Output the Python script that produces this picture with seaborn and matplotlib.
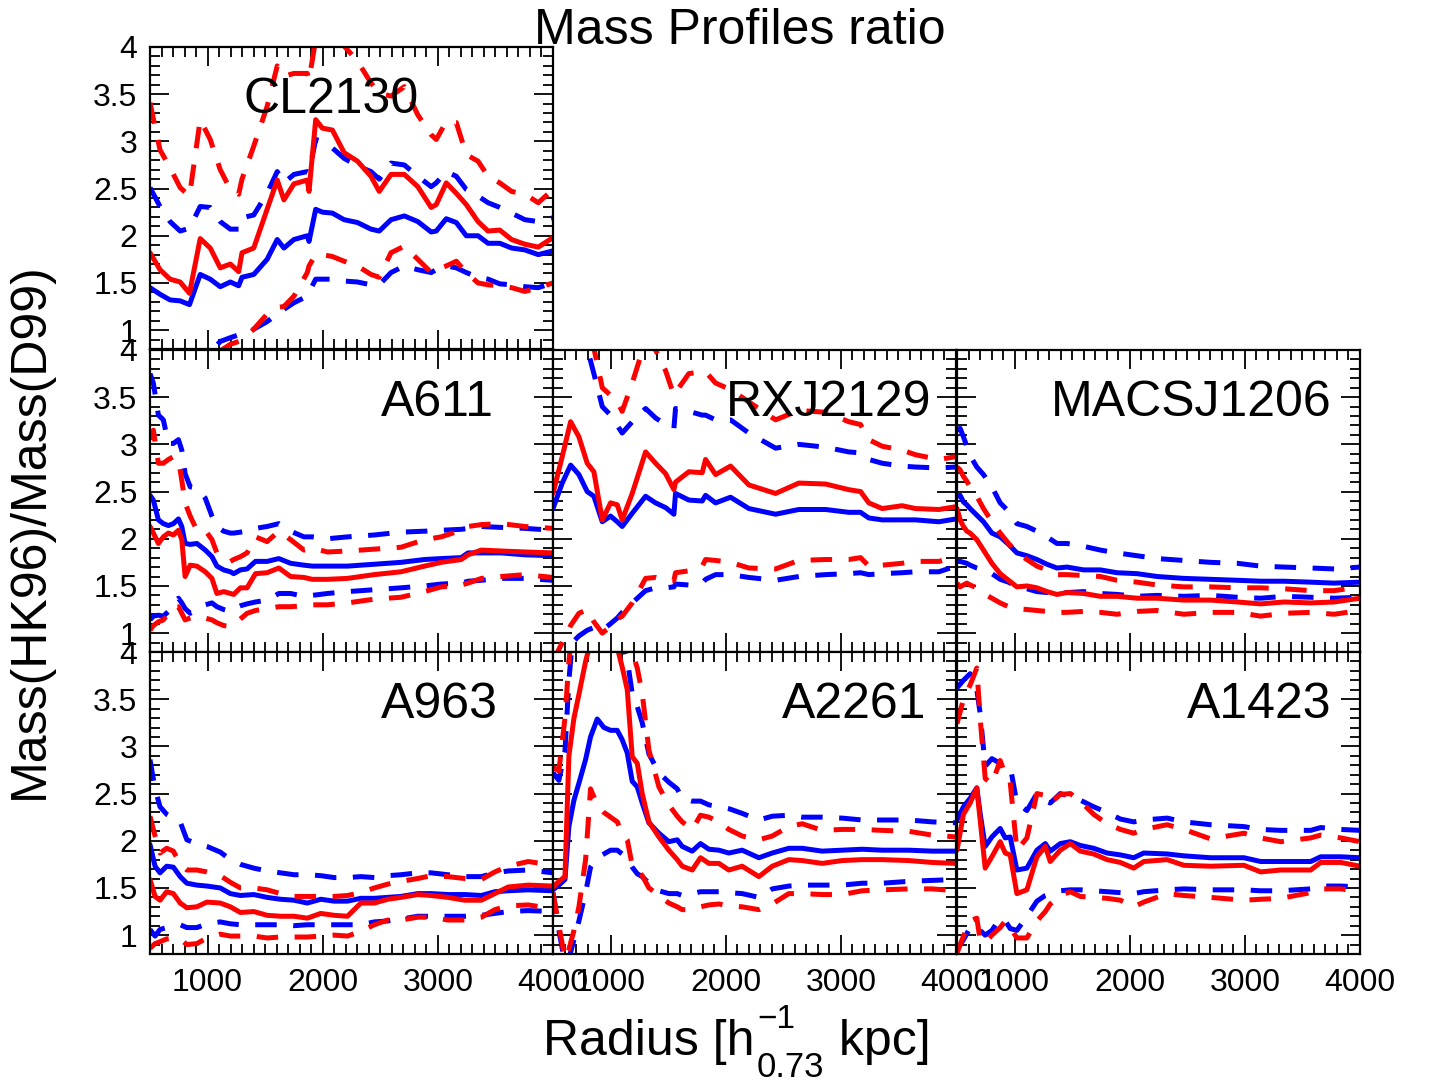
import matplotlib
matplotlib.use('Agg')
import matplotlib.pyplot as plt
import seaborn as sns
from matplotlib.ticker import MultipleLocator, FuncFormatter

# ---- data (radius in h^-1 kpc, ratio HK96/D99) ----
# CL2130
cl2130_r = [500, 587, 674, 762, 843, 936, 1023, 1110, 1198, 1270, 1299, 1401, 1517, 1605, 1663, 1750, 1866, 1881, 1939, 1997,
            2084, 2186, 2302, 2419, 2491, 2593, 2709, 2826, 2942, 2986, 3073, 3160, 3247, 3349, 3436, 3538, 3640, 3756, 3872, 4000]
cl2130_blue = [1.45, 1.38, 1.32, 1.31, 1.27, 1.59, 1.54, 1.46, 1.51, 1.47, 1.56, 1.59, 1.75, 1.96, 1.87, 1.96, 2.00, 1.94, 2.28, 2.25,
               2.24, 2.17, 2.14, 2.07, 2.05, 2.17, 2.21, 2.15, 2.04, 2.05, 2.18, 2.14, 2.00, 2.00, 1.92, 1.92, 1.87, 1.85, 1.80, 1.84]
cl2130_blue_hi = [2.51, 2.31, 2.15, 2.05, 2.08, 2.31, 2.30, 2.15, 2.07, 2.07, 2.19, 2.22, 2.45, 2.68, 2.56, 2.65, 2.68, 2.67, 3.02, 3.00,
                  2.93, 2.82, 2.74, 2.68, 2.60, 2.77, 2.75, 2.63, 2.52, 2.56, 2.68, 2.63, 2.49, 2.42, 2.35, 2.30, 2.24, 2.17, 2.15, 2.19]
cl2130_blue_lo = [0.55, 0.56, 0.58, 0.60, 0.62, 0.68, 0.76, 0.88, 0.92, 0.95, 0.97, 1.01, 1.09, 1.17, 1.22, 1.29, 1.36, 1.40, 1.54, 1.54,
                  1.54, 1.52, 1.51, 1.48, 1.48, 1.61, 1.68, 1.64, 1.61, 1.64, 1.68, 1.66, 1.61, 1.56, 1.54, 1.49, 1.48, 1.46, 1.45, 1.50]
cl2130_red = [1.82, 1.64, 1.54, 1.51, 1.39, 1.97, 1.87, 1.66, 1.70, 1.62, 1.82, 1.87, 2.28, 2.59, 2.38, 2.55, 2.59, 2.47, 3.23, 3.14,
              3.12, 2.88, 2.79, 2.63, 2.47, 2.65, 2.65, 2.52, 2.30, 2.33, 2.56, 2.45, 2.33, 2.15, 2.05, 2.06, 1.96, 1.91, 1.88, 1.98]
cl2130_red_hi = [3.41, 2.91, 2.72, 2.51, 2.42, 3.23, 3.02, 2.70, 2.49, 2.44, 2.60, 2.95, 3.37, 3.80, 3.69, 3.72, 3.72, 3.65, 4.08, 4.22,
                 4.30, 4.01, 3.85, 3.62, 3.51, 3.48, 3.58, 3.28, 3.07, 3.02, 3.21, 3.20, 2.86, 2.79, 2.63, 2.56, 2.47, 2.44, 2.35, 2.49]
cl2130_red_lo = [0.50, 0.52, 0.54, 0.56, 0.58, 0.62, 0.70, 0.78, 0.85, 0.88, 0.90, 1.01, 1.17, 1.24, 1.25, 1.36, 1.61, 1.68, 1.80, 1.80,
                 1.78, 1.73, 1.68, 1.59, 1.56, 1.82, 1.89, 1.75, 1.61, 1.64, 1.68, 1.73, 1.61, 1.50, 1.48, 1.47, 1.45, 1.41, 1.45, 1.50]

# A611
a611_r = [500, 529, 573, 616, 660, 703, 747, 776, 805, 849, 907, 980, 1038, 1081, 1140, 1198, 1227, 1285, 1343, 1416,
          1517, 1619, 1721, 1837, 1910, 2041, 2215, 2448, 2680, 2884, 3029, 3203, 3262, 3378, 3552, 3756, 4000]
a611_blue = [2.46, 2.41, 2.20, 2.16, 2.14, 2.16, 2.21, 2.13, 1.95, 1.94, 1.95, 1.88, 1.81, 1.71, 1.67, 1.65, 1.63, 1.67, 1.68, 1.76,
             1.76, 1.79, 1.74, 1.72, 1.71, 1.71, 1.71, 1.73, 1.75, 1.78, 1.79, 1.80, 1.85, 1.85, 1.85, 1.83, 1.82]
a611_blue_hi = [3.75, 3.65, 3.31, 3.26, 3.01, 3.01, 3.05, 2.94, 2.69, 2.55, 2.54, 2.43, 2.24, 2.13, 2.08, 2.06, 2.06, 2.07, 2.08, 2.11,
                2.13, 2.16, 2.08, 2.02, 2.02, 2.00, 2.02, 2.04, 2.07, 2.08, 2.09, 2.10, 2.11, 2.13, 2.12, 2.11, 2.09]
a611_blue_lo = [1.14, 1.18, 1.19, 1.18, 1.23, 1.32, 1.37, 1.32, 1.26, 1.21, 1.25, 1.30, 1.32, 1.28, 1.25, 1.23, 1.26, 1.29, 1.31, 1.33,
                1.35, 1.42, 1.42, 1.39, 1.40, 1.42, 1.44, 1.46, 1.48, 1.50, 1.52, 1.53, 1.55, 1.56, 1.58, 1.58, 1.56]
a611_red = [2.13, 2.06, 1.95, 2.02, 2.06, 2.04, 2.09, 1.99, 1.60, 1.72, 1.71, 1.65, 1.58, 1.42, 1.44, 1.42, 1.41, 1.48, 1.48, 1.63,
            1.64, 1.69, 1.60, 1.59, 1.57, 1.57, 1.58, 1.62, 1.65, 1.71, 1.75, 1.78, 1.83, 1.88, 1.87, 1.86, 1.85]
a611_red_hi = [3.05, 3.15, 2.80, 2.80, 2.84, 2.87, 2.84, 2.62, 2.38, 2.24, 2.09, 2.09, 1.99, 1.85, 1.81, 1.76, 1.78, 1.81, 1.85, 2.02,
               1.97, 2.08, 1.99, 1.88, 1.90, 1.86, 1.87, 1.89, 1.91, 1.99, 2.02, 2.09, 2.13, 2.15, 2.16, 2.13, 2.11]
a611_red_lo = [1.03, 1.08, 1.12, 1.14, 1.21, 1.28, 1.28, 1.21, 1.14, 1.16, 1.18, 1.16, 1.14, 1.11, 1.08, 1.07, 1.09, 1.15, 1.21, 1.24,
               1.26, 1.28, 1.28, 1.29, 1.30, 1.30, 1.32, 1.36, 1.38, 1.44, 1.49, 1.51, 1.53, 1.58, 1.60, 1.62, 1.59]

# RXJ2129
rxj2129_r = [500, 580, 653, 725, 797, 855, 928, 1000, 1058, 1101, 1188, 1304, 1391, 1478, 1550, 1564, 1680, 1796, 1825, 1912,
             2042, 2201, 2433, 2635, 2867, 3069, 3171, 3243, 3359, 3532, 3648, 3851, 4000]
rxj2129_blue = [2.32, 2.59, 2.78, 2.68, 2.50, 2.45, 2.18, 2.24, 2.18, 2.13, 2.27, 2.45, 2.38, 2.33, 2.26, 2.48, 2.41, 2.40, 2.46, 2.38,
                2.44, 2.32, 2.26, 2.31, 2.31, 2.28, 2.28, 2.22, 2.20, 2.20, 2.20, 2.18, 2.21]
rxj2129_blue_hi = [4.60, 4.50, 4.40, 4.20, 4.02, 3.75, 3.40, 3.31, 3.20, 3.12, 3.24, 3.38, 3.28, 3.21, 3.17, 3.38, 3.35, 3.31, 3.31, 3.26,
                   3.26, 3.12, 2.96, 3.00, 2.97, 2.92, 2.91, 2.84, 2.80, 2.77, 2.76, 2.75, 2.76]
rxj2129_blue_lo = [0.60, 0.75, 0.88, 0.97, 1.03, 1.06, 1.03, 1.10, 1.16, 1.22, 1.32, 1.45, 1.48, 1.48, 1.49, 1.52, 1.51, 1.53, 1.57, 1.62,
                   1.62, 1.59, 1.56, 1.60, 1.62, 1.63, 1.64, 1.62, 1.63, 1.64, 1.65, 1.65, 1.71]
rxj2129_red = [2.48, 2.87, 3.24, 3.08, 2.80, 2.71, 2.20, 2.38, 2.36, 2.20, 2.48, 2.92, 2.80, 2.69, 2.52, 2.60, 2.71, 2.70, 2.84, 2.68,
               2.77, 2.57, 2.48, 2.59, 2.58, 2.52, 2.50, 2.38, 2.32, 2.35, 2.32, 2.31, 2.34]
rxj2129_red_hi = [4.80, 4.70, 4.60, 4.40, 4.20, 4.02, 3.60, 3.52, 3.45, 3.35, 3.65, 4.10, 4.00, 3.78, 3.52, 3.55, 3.75, 3.77, 3.77, 3.65,
                  3.58, 3.45, 3.26, 3.36, 3.34, 3.24, 3.21, 3.05, 2.98, 2.94, 2.89, 2.84, 2.87]
rxj2129_red_lo = [0.70, 0.90, 1.08, 1.21, 1.25, 1.12, 1.00, 1.07, 1.15, 1.18, 1.32, 1.58, 1.59, 1.56, 1.56, 1.64, 1.66, 1.71, 1.78, 1.77,
                  1.75, 1.69, 1.68, 1.77, 1.78, 1.78, 1.80, 1.71, 1.72, 1.74, 1.76, 1.76, 1.81]

# MACSJ1206
macs_r = [500, 527, 556, 585, 614, 672, 730, 803, 875, 948, 1020, 1107, 1194, 1281, 1368, 1455, 1600, 1745, 1890, 2064,
          2238, 2470, 2702, 2934, 3137, 3340, 3572, 3775, 4000]
macs_blue = [2.45, 2.46, 2.39, 2.36, 2.32, 2.25, 2.18, 2.06, 2.02, 1.94, 1.85, 1.82, 1.78, 1.73, 1.69, 1.70, 1.67, 1.67, 1.64, 1.63,
             1.60, 1.58, 1.57, 1.56, 1.55, 1.55, 1.54, 1.53, 1.54]
macs_blue_hi = [3.15, 3.17, 3.08, 2.98, 2.88, 2.76, 2.68, 2.55, 2.38, 2.29, 2.16, 2.13, 2.08, 2.02, 1.95, 1.95, 1.92, 1.88, 1.85, 1.82,
                1.79, 1.77, 1.75, 1.74, 1.71, 1.70, 1.69, 1.68, 1.70]
macs_blue_lo = [1.76, 1.76, 1.75, 1.74, 1.72, 1.69, 1.67, 1.63, 1.57, 1.54, 1.49, 1.47, 1.44, 1.43, 1.43, 1.43, 1.44, 1.42, 1.41, 1.39,
                1.40, 1.39, 1.40, 1.38, 1.37, 1.39, 1.38, 1.37, 1.38]
macs_red = [2.32, 2.20, 2.13, 2.08, 2.06, 1.99, 1.88, 1.74, 1.63, 1.56, 1.49, 1.50, 1.48, 1.44, 1.41, 1.43, 1.42, 1.39, 1.39, 1.37,
            1.37, 1.35, 1.35, 1.33, 1.31, 1.33, 1.32, 1.33, 1.37]
macs_red_hi = [2.76, 2.73, 2.66, 2.61, 2.55, 2.45, 2.32, 2.18, 2.06, 1.95, 1.85, 1.78, 1.71, 1.67, 1.62, 1.62, 1.61, 1.60, 1.56, 1.54,
               1.51, 1.49, 1.49, 1.48, 1.48, 1.47, 1.45, 1.45, 1.49]
macs_red_lo = [1.53, 1.49, 1.51, 1.53, 1.51, 1.48, 1.42, 1.37, 1.32, 1.28, 1.26, 1.25, 1.24, 1.23, 1.22, 1.22, 1.23, 1.22, 1.20, 1.23,
               1.24, 1.20, 1.22, 1.22, 1.18, 1.21, 1.22, 1.20, 1.24]

# A963
a963_r = [500, 544, 587, 645, 703, 762, 820, 907, 994, 1110, 1198, 1285, 1401, 1517, 1634, 1750, 1866, 1983, 2099, 2215,
          2331, 2448, 2564, 2680, 2826, 2942, 3087, 3233, 3378, 3495, 3611, 3785, 4000]
a963_blue = [1.96, 1.73, 1.66, 1.73, 1.72, 1.62, 1.55, 1.53, 1.52, 1.50, 1.44, 1.42, 1.43, 1.40, 1.38, 1.37, 1.34, 1.38, 1.36, 1.36,
             1.39, 1.39, 1.40, 1.41, 1.44, 1.44, 1.43, 1.43, 1.42, 1.46, 1.47, 1.48, 1.47]
a963_blue_hi = [2.86, 2.55, 2.36, 2.28, 2.24, 2.20, 2.01, 1.97, 1.94, 1.88, 1.80, 1.75, 1.71, 1.68, 1.66, 1.64, 1.64, 1.63, 1.61, 1.61,
                1.62, 1.61, 1.63, 1.64, 1.66, 1.66, 1.64, 1.62, 1.62, 1.66, 1.68, 1.69, 1.66]
a963_blue_lo = [1.06, 0.99, 1.06, 1.08, 1.10, 1.11, 1.08, 1.08, 1.12, 1.14, 1.12, 1.11, 1.11, 1.11, 1.11, 1.10, 1.11, 1.11, 1.11, 1.11,
                1.11, 1.14, 1.15, 1.17, 1.20, 1.20, 1.20, 1.20, 1.21, 1.23, 1.25, 1.26, 1.25]
a963_red = [1.59, 1.41, 1.37, 1.46, 1.44, 1.34, 1.29, 1.30, 1.35, 1.34, 1.30, 1.24, 1.25, 1.21, 1.20, 1.20, 1.18, 1.23, 1.21, 1.20,
            1.34, 1.34, 1.38, 1.40, 1.43, 1.42, 1.40, 1.37, 1.37, 1.44, 1.51, 1.53, 1.52]
a963_red_hi = [2.26, 2.05, 1.87, 1.92, 1.89, 1.75, 1.69, 1.69, 1.67, 1.63, 1.56, 1.50, 1.50, 1.48, 1.44, 1.41, 1.41, 1.41, 1.41, 1.42,
               1.45, 1.50, 1.54, 1.57, 1.60, 1.63, 1.62, 1.60, 1.59, 1.67, 1.73, 1.78, 1.74]
a963_red_lo = [0.86, 0.91, 0.93, 0.96, 0.97, 0.96, 0.90, 0.91, 0.97, 1.01, 0.99, 0.99, 0.99, 0.97, 0.98, 0.98, 0.98, 0.99, 1.00, 0.99,
               1.04, 1.11, 1.16, 1.16, 1.19, 1.19, 1.16, 1.16, 1.19, 1.27, 1.31, 1.32, 1.28]

# A2261
a2261_r = [500, 551, 604, 638, 682, 725, 783, 826, 884, 942, 1000, 1058, 1101, 1145, 1188, 1232, 1275, 1333, 1420, 1506,
           1579, 1622, 1709, 1781, 1854, 1941, 2027, 2143, 2288, 2404, 2548, 2664, 2838, 3011, 3185, 3359, 3590, 3793, 4000]
a2261_blue = [1.48, 1.53, 1.59, 2.15, 2.43, 2.61, 2.86, 3.10, 3.29, 3.20, 3.17, 3.17, 3.07, 2.93, 2.63, 2.57, 2.40, 2.19, 2.08, 1.99,
              2.01, 1.94, 1.89, 1.97, 1.91, 1.90, 1.87, 1.90, 1.82, 1.87, 1.92, 1.92, 1.89, 1.90, 1.91, 1.90, 1.90, 1.89, 1.89]
a2261_blue_hi = [2.72, 2.64, 2.95, 3.70, 4.30, 4.60, 4.80, 4.90, 4.90, 4.80, 4.60, 4.30, 4.10, 3.92, 3.56, 3.42, 3.25, 2.92, 2.72, 2.62,
                 2.55, 2.45, 2.42, 2.42, 2.38, 2.36, 2.34, 2.29, 2.22, 2.26, 2.27, 2.25, 2.25, 2.24, 2.22, 2.22, 2.22, 2.20, 2.19]
a2261_blue_lo = [1.45, 1.05, 0.70, 0.75, 0.95, 1.15, 1.45, 1.72, 1.82, 1.86, 1.90, 1.90, 1.86, 1.81, 1.72, 1.65, 1.62, 1.55, 1.47, 1.44,
                 1.44, 1.42, 1.44, 1.46, 1.46, 1.46, 1.45, 1.44, 1.40, 1.49, 1.52, 1.53, 1.53, 1.53, 1.55, 1.55, 1.57, 1.58, 1.59]
a2261_red = [1.51, 1.57, 1.62, 2.90, 3.30, 3.55, 3.90, 4.10, 4.40, 4.50, 4.40, 4.05, 3.84, 3.60, 2.89, 2.82, 2.50, 2.20, 2.04, 1.90,
             1.80, 1.73, 1.69, 1.82, 1.76, 1.76, 1.69, 1.73, 1.62, 1.73, 1.80, 1.79, 1.76, 1.79, 1.80, 1.80, 1.79, 1.77, 1.76]
a2261_red_hi = [2.78, 2.74, 3.30, 3.90, 4.40, 4.70, 4.90, 5.00, 5.00, 4.90, 4.70, 4.50, 4.30, 4.15, 4.00, 3.83, 3.56, 2.96, 2.57, 2.38,
                2.26, 2.20, 2.12, 2.27, 2.25, 2.20, 2.12, 2.05, 2.01, 2.05, 2.15, 2.18, 2.11, 2.12, 2.12, 2.11, 2.10, 2.06, 2.04]
a2261_red_lo = [1.45, 1.10, 0.75, 0.85, 1.05, 1.30, 1.80, 2.55, 2.38, 2.30, 2.25, 2.20, 2.08, 2.01, 1.74, 1.69, 1.63, 1.50, 1.42, 1.34,
                1.30, 1.27, 1.27, 1.30, 1.32, 1.33, 1.31, 1.30, 1.27, 1.33, 1.44, 1.44, 1.43, 1.43, 1.47, 1.48, 1.49, 1.49, 1.47]

# A1423
a1423_r = [500, 556, 614, 672, 701, 745, 803, 875, 919, 962, 1020, 1107, 1194, 1267, 1310, 1397, 1484, 1571, 1687, 1803,
           1919, 2035, 2122, 2325, 2470, 2702, 2992, 3137, 3311, 3572, 3659, 3833, 4000]
a1423_blue = [2.22, 2.36, 2.45, 2.56, 2.29, 1.94, 2.04, 2.13, 2.03, 2.04, 1.69, 1.71, 1.90, 1.97, 1.89, 1.97, 1.99, 1.95, 1.92, 1.87,
              1.85, 1.82, 1.87, 1.86, 1.84, 1.82, 1.82, 1.78, 1.78, 1.78, 1.83, 1.83, 1.82]
a1423_blue_hi = [3.62, 3.70, 3.77, 3.60, 3.35, 2.79, 2.87, 2.82, 2.80, 2.79, 2.40, 2.32, 2.50, 2.42, 2.40, 2.50, 2.47, 2.43, 2.36, 2.30,
                 2.23, 2.20, 2.22, 2.24, 2.20, 2.17, 2.15, 2.12, 2.11, 2.11, 2.14, 2.12, 2.11]
a1423_blue_lo = [0.85, 0.95, 1.08, 1.10, 1.05, 1.00, 1.05, 1.18, 1.15, 1.07, 1.05, 1.20, 1.36, 1.42, 1.44, 1.47, 1.48, 1.48, 1.47, 1.46,
                 1.45, 1.44, 1.46, 1.48, 1.49, 1.48, 1.48, 1.47, 1.47, 1.49, 1.52, 1.52, 1.51]
a1423_red = [1.90, 2.28, 2.40, 2.56, 2.22, 1.71, 1.83, 1.99, 1.87, 1.85, 1.44, 1.48, 1.83, 1.94, 1.78, 1.90, 1.97, 1.89, 1.86, 1.80,
             1.77, 1.71, 1.78, 1.80, 1.74, 1.73, 1.74, 1.67, 1.69, 1.69, 1.77, 1.77, 1.73]
a1423_red_hi = [3.24, 3.50, 3.65, 3.83, 3.30, 2.66, 2.60, 2.85, 2.70, 2.62, 1.90, 2.03, 2.50, 2.48, 2.40, 2.49, 2.50, 2.42, 2.28, 2.18,
                2.12, 2.08, 2.12, 2.17, 2.12, 2.02, 2.08, 2.03, 1.99, 2.03, 2.06, 2.03, 1.99]
a1423_red_lo = [0.81, 0.99, 1.15, 1.18, 0.95, 0.92, 1.00, 1.08, 1.15, 1.08, 0.97, 0.97, 1.15, 1.25, 1.33, 1.42, 1.46, 1.41, 1.40, 1.39,
                1.37, 1.30, 1.35, 1.44, 1.42, 1.40, 1.37, 1.38, 1.39, 1.45, 1.49, 1.49, 1.46]

# ---- style ----
sns.set_style('ticks')
plt.rcParams['font.family'] = ['Liberation Sans', 'DejaVu Sans']
plt.rcParams['text.color'] = 'black'
plt.rcParams['axes.labelcolor'] = 'black'
plt.rcParams['xtick.color'] = 'black'
plt.rcParams['ytick.color'] = 'black'

W, H = 1430, 1085
fig = plt.figure(figsize=(W / 100, H / 100), dpi=100)

col_left = [150, 553, 957]
row_top = [47, 350, 652]
pw, ph = 403, 302

# (name, row, col, radius, blue, blue_hi, blue_lo, red, red_hi, red_lo, label right edge in axes fraction)
panels = [
    ('CL2130', 0, 0, cl2130_r, cl2130_blue, cl2130_blue_hi, cl2130_blue_lo, cl2130_red, cl2130_red_hi, cl2130_red_lo, 0.667),
    ('A611', 1, 0, a611_r, a611_blue, a611_blue_hi, a611_blue_lo, a611_red, a611_red_hi, a611_red_lo, 0.853),
    ('RXJ2129', 1, 1, rxj2129_r, rxj2129_blue, rxj2129_blue_hi, rxj2129_blue_lo, rxj2129_red, rxj2129_red_hi, rxj2129_red_lo, 0.940),
    ('MACSJ1206', 1, 2, macs_r, macs_blue, macs_blue_hi, macs_blue_lo, macs_red, macs_red_hi, macs_red_lo, 0.930),
    ('A963', 2, 0, a963_r, a963_blue, a963_blue_hi, a963_blue_lo, a963_red, a963_red_hi, a963_red_lo, 0.864),
    ('A2261', 2, 1, a2261_r, a2261_blue, a2261_blue_hi, a2261_blue_lo, a2261_red, a2261_red_hi, a2261_red_lo, 0.926),
    ('A1423', 2, 2, a1423_r, a1423_blue, a1423_blue_hi, a1423_blue_lo, a1423_red, a1423_red_hi, a1423_red_lo, 0.930),
]

lw = 3.6
dash = (0, (4.3, 3.3))

for name, row, col, r, b, bhi, blo, rd, rhi, rlo, lab_x in panels:
    ax = fig.add_axes([col_left[col] / W, 1 - (row_top[row] + ph) / H, pw / W, ph / H])
    for vals, c, ls in [(b, 'blue', '-'), (bhi, 'blue', dash), (blo, 'blue', dash),
                        (rd, 'red', '-'), (rhi, 'red', dash), (rlo, 'red', dash)]:
        sns.lineplot(x=r, y=vals, ax=ax, color=c, linewidth=lw, linestyle=ls,
                     estimator=None, sort=False, legend=False)
    ax.set_xlim(500, 4000)
    ax.set_ylim(0.8, 4)
    ax.set_xlabel('')
    ax.set_ylabel('')
    ax.xaxis.set_major_locator(MultipleLocator(1000))
    ax.xaxis.set_minor_locator(MultipleLocator(100))
    ax.yaxis.set_major_locator(MultipleLocator(0.5))
    ax.yaxis.set_minor_locator(MultipleLocator(0.1))
    ax.yaxis.set_major_formatter(FuncFormatter(lambda v, p: f'{v:g}'))
    ax.tick_params(which='both', direction='in', top=True, right=True, width=1.3,
                   labelsize=23, colors='black')
    ax.tick_params(which='major', length=14)
    ax.tick_params(which='minor', length=7)
    ax.tick_params(axis='x', pad=10)
    ax.tick_params(axis='y', pad=9)
    ax.tick_params(labelleft=(col == 0), labelbottom=(row == 2))
    for sp in ax.spines.values():
        sp.set_linewidth(1.6)
        sp.set_color('black')
    ax.text(lab_x, 0.78, name, transform=ax.transAxes, ha='right', va='baseline', fontsize=36)

fig.text(740 / W, 1 - 44 / H, 'Mass Profiles ratio', ha='center', va='baseline', fontsize=36)
fig.text(30 / W, 1 - 531 / H, 'Mass(HK96)/Mass(D99)', rotation=90, ha='center', va='center', fontsize=36)

# x label built from pieces so the stacked exponent / subscript keep their size
renderer = fig.canvas.get_renderer()
t_main = fig.text(543 / W, 1 - 1055 / H, 'Radius [h', ha='left', va='baseline', fontsize=36)
x_end = t_main.get_window_extent(renderer).x1
t_sup = fig.text((x_end + 3) / W, 1 - 1028 / H, '\u22121', ha='left', va='baseline', fontsize=24)
t_sub = fig.text((x_end + 2) / W, 1 - 1077 / H, '0.73', ha='left', va='baseline', fontsize=25)
x_end2 = max(t_sup.get_window_extent(renderer).x1, t_sub.get_window_extent(renderer).x1)
fig.text((x_end2 + 1) / W, 1 - 1055 / H, ' kpc]', ha='left', va='baseline', fontsize=36)

fig.savefig('out.png', dpi=100)
